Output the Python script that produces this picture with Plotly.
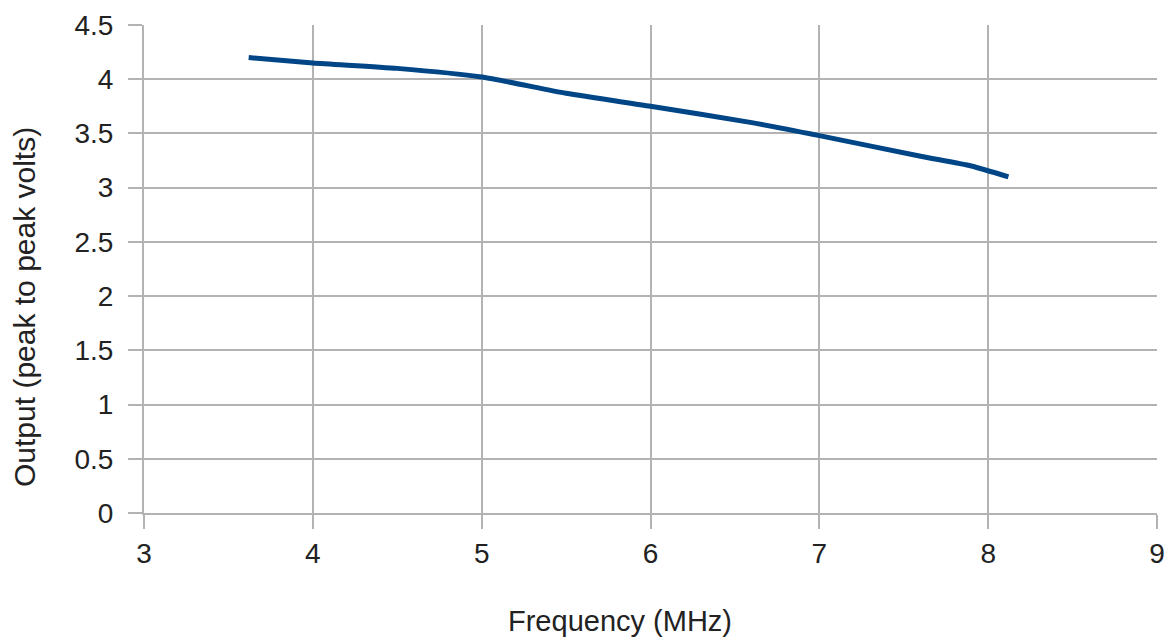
import plotly.graph_objects as go

# Data
frequency_mhz = [3.62, 4.0, 4.5, 5.0, 5.5, 6.0, 6.6, 7.0, 7.6, 7.9, 8.12]
output_vpp = [4.20, 4.15, 4.10, 4.02, 3.87, 3.75, 3.60, 3.48, 3.29, 3.20, 3.10]

x_ticks = [3, 4, 5, 6, 7, 8, 9]
y_ticks = [0, 0.5, 1, 1.5, 2, 2.5, 3, 3.5, 4, 4.5]
y_tick_text = ["0", "0.5", "1", "1.5", "2", "2.5", "3", "3.5", "4", "4.5"]

x_title = "Frequency (MHz)"
y_title = "Output (peak to peak volts)"

FONT = "Liberation Sans, Arial, sans-serif"
GRID = "#b3b3b3"
TEXT = "#222222"

W, H = 1169, 643
L, R, T, B = 144, 12, 25, 130
PW, PH = W - L - R, H - T - B

fig = go.Figure()
fig.add_trace(go.Scatter(
    x=frequency_mhz, y=output_vpp, mode="lines",
    line=dict(color="#004586", width=5, shape="spline", smoothing=0.6),
    showlegend=False, hoverinfo="skip",
))

fig.update_layout(
    width=W, height=H,
    margin=dict(l=L, r=R, t=T, b=B, autoexpand=False),
    paper_bgcolor="white", plot_bgcolor="white",
    font=dict(family=FONT, color=TEXT, size=28),
    xaxis=dict(
        range=[3, 9], tickvals=x_ticks, ticktext=[str(v) for v in x_ticks],
        showgrid=True, gridcolor=GRID, gridwidth=2,
        showline=True, linecolor=GRID, linewidth=2,
        ticks="outside", ticklen=14, tickwidth=2, tickcolor=GRID,
        tickfont=dict(family=FONT, size=28, color=TEXT),
        ticklabelstandoff=0, automargin=False, ticklabeloverflow="allow",
        zeroline=False, mirror=False,
    ),
    yaxis=dict(
        range=[0, 4.5], tickvals=y_ticks, ticktext=y_tick_text,
        showgrid=True, gridcolor=GRID, gridwidth=2,
        showline=True, linecolor=GRID, linewidth=2,
        ticks="outside", ticklen=14, tickwidth=2, tickcolor=GRID,
        tickfont=dict(family=FONT, size=28, color=TEXT),
        ticklabelstandoff=9, automargin=False,
        zeroline=False,
    ),
    annotations=[
        dict(text=x_title, xref="paper", yref="paper",
             x=(620 - L) / PW, y=-(621 - 513) / PH,
             xanchor="center", yanchor="middle", showarrow=False,
             font=dict(family=FONT, size=29, color=TEXT)),
        dict(text=y_title, xref="paper", yref="paper",
             x=-(L - 25) / PW, y=(513 - 307) / PH,
             xanchor="center", yanchor="middle", showarrow=False, textangle=-90,
             font=dict(family=FONT, size=30, color=TEXT)),
    ],
)

# Remove the default page margin so the figure fills the window exactly
fig.write_html("out.html",
               config={"displayModeBar": False},
               post_script="document.body.style.margin='0';document.body.style.overflow='hidden';")
